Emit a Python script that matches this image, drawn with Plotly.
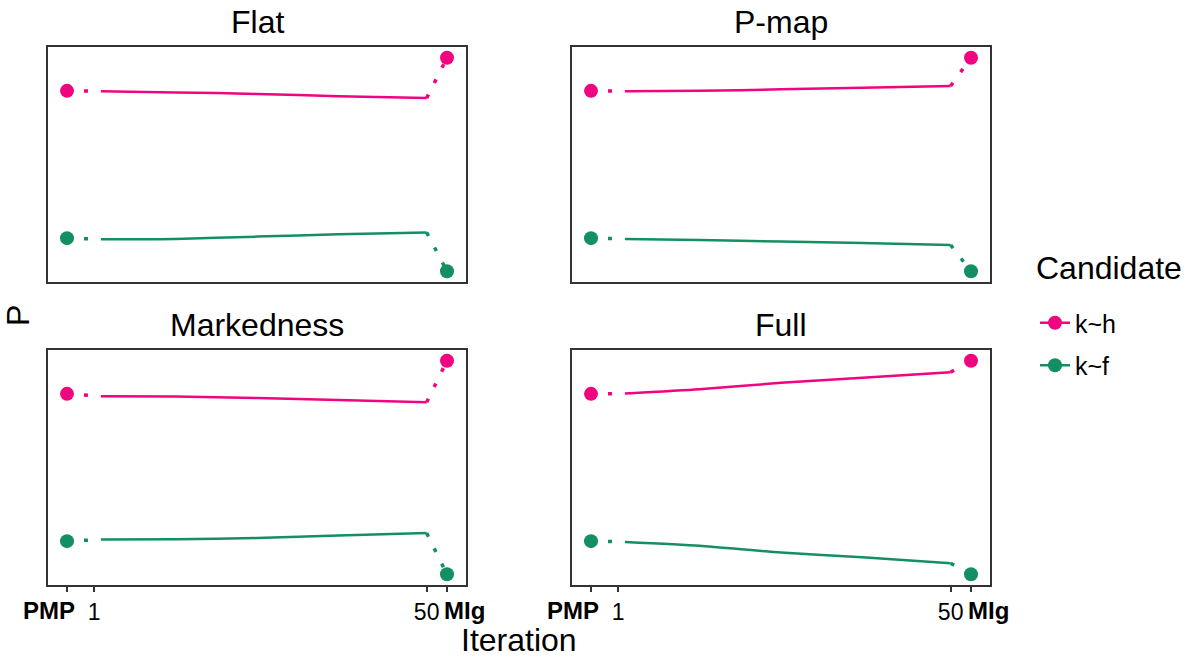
import plotly.graph_objects as go

# ---------------- data ----------------
facets = ["Flat", "P-map", "Markedness", "Full"]
candidates = ["k~h", "k~f"]

iterations = [2, 13, 25, 37, 50]
x_pmp = -3
x_mlg = 53
tick_vals = [1, 50]
tick_text = ["1", "50"]
end_labels = ["PMP", "MIg"]

pmp_kh = [0.693, 0.693, 0.693, 0.693]
pmp_kf = [0.307, 0.307, 0.307, 0.307]
mlg_kh = [0.780, 0.780, 0.780, 0.780]
mlg_kf = [0.220, 0.220, 0.220, 0.220]

flat_kh = [0.692, 0.689, 0.685, 0.679, 0.674]
flat_kf = [0.304, 0.305, 0.311, 0.317, 0.322]
pmap_kh = [0.692, 0.693, 0.697, 0.701, 0.706]
pmap_kf = [0.305, 0.302, 0.298, 0.294, 0.289]
mark_kh = [0.687, 0.686, 0.682, 0.677, 0.671]
mark_kf = [0.311, 0.312, 0.315, 0.322, 0.328]
full_kh = [0.694, 0.705, 0.722, 0.735, 0.750]
full_kf = [0.305, 0.295, 0.277, 0.265, 0.249]

series = {
    "Flat": {"k~h": flat_kh, "k~f": flat_kf},
    "P-map": {"k~h": pmap_kh, "k~f": pmap_kf},
    "Markedness": {"k~h": mark_kh, "k~f": mark_kf},
    "Full": {"k~h": full_kh, "k~f": full_kf},
}
pmp = {"k~h": pmp_kh, "k~f": pmp_kf}
mlg = {"k~h": mlg_kh, "k~f": mlg_kf}

# ---------------- style ----------------
colors = {"k~h": "#F0047F", "k~f": "#148F62"}
FONT = "Liberation Sans, Arial, sans-serif"
W, H = 1188, 660
col_px = [(48, 466), (572, 990)]
row_px = [(47, 282), (350, 585)]
DOT = "4px,13px"
TITLE_SIZE = 32
TICK_SIZE = 23

fig = go.Figure()

all_vals = []
for f in facets:
    for c in candidates:
        all_vals += series[f][c]
all_vals += pmp_kh + pmp_kf + mlg_kh + mlg_kf
vmin, vmax = min(all_vals), max(all_vals)
pad = (vmax - vmin) * 0.05
y_range = [vmin - pad, vmax + pad]
xmin, xmax = x_pmp, x_mlg
xpad = (xmax - xmin) * 0.05
x_range = [xmin - xpad, xmax + xpad]

annotations = []
layout_axes = {}
for i, f in enumerate(facets):
    r, c = divmod(i, 2)
    ax = "" if i == 0 else str(i + 1)
    xa, ya = "x" + ax, "y" + ax
    for cand in candidates:
        col = colors[cand]
        vals = series[f][cand]
        fig.add_trace(go.Scatter(x=[x_pmp, iterations[0]], y=[pmp[cand][i], vals[0]],
                                 mode="lines", line=dict(color=col, width=3.5, dash=DOT),
                                 xaxis=xa, yaxis=ya, showlegend=False, hoverinfo="skip"))
        fig.add_trace(go.Scatter(x=[iterations[-1], x_mlg], y=[vals[-1], mlg[cand][i]],
                                 mode="lines", line=dict(color=col, width=3.5, dash=DOT),
                                 xaxis=xa, yaxis=ya, showlegend=False, hoverinfo="skip"))
        fig.add_trace(go.Scatter(x=iterations, y=vals, mode="lines",
                                 line=dict(color=col, width=2.5, shape="spline", smoothing=0.6),
                                 xaxis=xa, yaxis=ya, showlegend=False))
        fig.add_trace(go.Scatter(x=[x_pmp, x_mlg], y=[pmp[cand][i], mlg[cand][i]],
                                 mode="markers", marker=dict(color=col, size=14),
                                 xaxis=xa, yaxis=ya, showlegend=False))
    x0, x1 = col_px[c]
    y0, y1 = row_px[r]
    bottom = r == 1
    layout_axes["xaxis" + ax] = dict(
        domain=[x0 / W, x1 / W], range=x_range, anchor=ya, automargin=False,
        showline=True, linecolor="#333333", linewidth=2.2, mirror=True,
        showgrid=False, zeroline=False,
        tickmode="array", tickvals=[x_pmp] + tick_vals + [x_mlg],
        ticktext=[""] + tick_text + [""], tickangle=0,
        ticks="outside" if bottom else "", ticklen=5, tickwidth=2, tickcolor="#333333",
        showticklabels=bottom,
        tickfont=dict(family=FONT, size=TICK_SIZE, color="black"),
    )
    layout_axes["yaxis" + ax] = dict(
        domain=[1 - y1 / H, 1 - y0 / H], range=y_range, anchor=xa, automargin=False,
        showline=True, linecolor="#333333", linewidth=2.2, mirror=True,
        showgrid=False, zeroline=False, ticks="", showticklabels=False,
    )
    if bottom:
        annotations.append(dict(text="<b>%s</b>" % end_labels[0], x=x_pmp, y=1 - 610 / H,
                                xref=xa, yref="paper", showarrow=False,
                                xanchor="right", yanchor="middle", xshift=10,
                                font=dict(family=FONT, size=TICK_SIZE + 1, color="black")))
        annotations.append(dict(text="<b>%s</b>" % end_labels[1], x=x_mlg, y=1 - 610 / H,
                                xref=xa, yref="paper", showarrow=False,
                                xanchor="left", yanchor="middle", xshift=-5,
                                font=dict(family=FONT, size=TICK_SIZE + 1, color="black")))

for cand in candidates:
    fig.add_trace(go.Scatter(x=[None], y=[None], mode="lines+markers", name=cand,
                             line=dict(color=colors[cand], width=2.5),
                             marker=dict(color=colors[cand], size=14),
                             legendgroup=cand, showlegend=True))

for i, f in enumerate(facets):
    r, c = divmod(i, 2)
    x0, x1 = col_px[c]
    y0, _ = row_px[r]
    annotations.append(dict(text=f, x=(x0 + x1) / 2 / W, y=1 - (y0 - 25) / H,
                            xref="paper", yref="paper", showarrow=False,
                            xanchor="center", yanchor="middle",
                            font=dict(family=FONT, size=TITLE_SIZE, color="black")))
annotations.append(dict(text="Iteration", x=519 / W, y=1 - 640 / H, xref="paper", yref="paper",
                        showarrow=False, xanchor="center", yanchor="middle",
                        font=dict(family=FONT, size=TITLE_SIZE, color="black")))
annotations.append(dict(text="P", x=18 / W, y=1 - 316 / H, xref="paper", yref="paper",
                        showarrow=False, textangle=-90, xanchor="center", yanchor="middle",
                        font=dict(family=FONT, size=TITLE_SIZE, color="black")))
annotations.append(dict(text="Candidate", x=1034 / W, y=1 - 268 / H, xref="paper", yref="paper",
                        showarrow=False, xanchor="left", yanchor="middle",
                        font=dict(family=FONT, size=TITLE_SIZE, color="black")))

fig.update_layout(
    template="none",
    width=W, height=H,
    margin=dict(l=0, r=0, t=0, b=0, pad=0),
    paper_bgcolor="white", plot_bgcolor="white",
    annotations=annotations,
    legend=dict(font=dict(family=FONT, size=25, color="black"),
                x=1035 / W, y=1 - 300 / H, xanchor="left", yanchor="top",
                tracegroupgap=7, bgcolor="rgba(0,0,0,0)", borderwidth=0),
    **layout_axes,
)

fig.write_html("out.html", config={"displayModeBar": False},
               post_script="document.body.style.margin='0';document.body.style.overflow='hidden';")
